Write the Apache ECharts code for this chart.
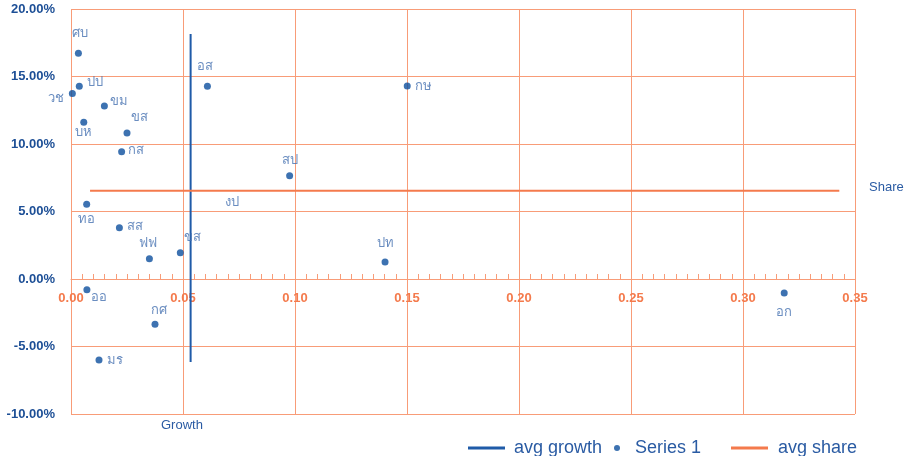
<!DOCTYPE html>
<html><head><meta charset="utf-8">
<script src="https://cdn.jsdelivr.net/npm/echarts@6/dist/echarts.min.js"></script>
<style>html,body{margin:0;padding:0;background:#fff}#c{width:910px;height:456px}</style>
</head><body><div id="c"></div>
<script>
// ---- data ----
const names  = ['ศบ','ปป','วช','ขม','บห','ขส','กส','อส','ทอ','สส','ฟฟ','ขส','ออ','กศ','มร','กษ','สป','ปท','อก'];
const share  = [0.0033,0.0037,0.0006,0.0149,0.0057,0.0250,0.0226,0.0609,0.0070,0.0216,0.0350,0.0488,0.0071,0.0375,0.0125,0.1501,0.0976,0.1402,0.3184];
const growth = [0.1672,0.1427,0.1375,0.1281,0.1161,0.1081,0.0943,0.1427,0.0553,0.0380,0.0150,0.0195,-0.0079,-0.0336,-0.0600,0.1430,0.0765,0.0126,-0.0104];
const extraLabelName = 'งป';
const extraLabelShare = 0.0719;
const extraLabelGrowth = 0.0654;
const avgGrowthShare = 0.0534;
const avgGrowthRange = [-0.0615, 0.1815];
const avgShareGrowth = 0.0654;
const avgShareRange = [0.0085, 0.343];
const xTickLabels = ['0.00','0.05','0.10','0.15','0.20','0.25','0.30','0.35'];
const yTickLabels = ['-10.00%','-5.00%','0.00%','5.00%','10.00%','15.00%','20.00%'];

// label placement (text offsets from the dot centre, px)
const labelOffsets = [[2,-20],[16,-4],[-16,5],[15,-5],[0,10],[12,-16],[14,-1],[-2,-20],[0,15],[16,-1],[-1,-15],[12,-15],[12,8],[4,-14],[16,0],[16,0],[0,-15],[0,-19],[0,19]];

const BLUE = '#0d4f9e', LINEBLUE = '#1f5ba8', ORANGE = '#f47a4c', GRID = '#f89c78';
const TXT = '#2a5ba3', LBL = '#4570b0';

const pts = names.map((n,i)=>({
  name:n, value:[share[i], growth[i]],
  label:{offset:labelOffsets[i]}
}));

const GRID_TOP = 9, GRID_BOTTOM = 42, H = 456 - GRID_TOP - GRID_BOTTOM;
const yMin = -0.10, yMax = 0.20;
const zeroOffset = -H * (0 - yMin) / (yMax - yMin); // move x axis up to y = 0

const chart = echarts.init(document.getElementById('c'), null, {renderer:'canvas'});
chart.setOption({
  animation:false,
  grid:{left:71, right:55, top:GRID_TOP, bottom:GRID_BOTTOM, containLabel:false},
  xAxis:{
    type:'value', min:0, max:0.35, interval:0.05, position:'bottom', offset:zeroOffset,
    axisLine:{show:true, onZero:false, lineStyle:{color:GRID, width:1}},
    axisTick:{show:true, inside:true, length:5, lineStyle:{color:GRID}},
    minorTick:{show:true, splitNumber:10, length:5, lineStyle:{color:GRID}},
    splitLine:{show:true, lineStyle:{color:GRID, width:1}},
    axisLabel:{color:ORANGE, fontWeight:'bold', fontSize:13, fontFamily:'Liberation Sans', margin:13,
      formatter:(v)=>xTickLabels[Math.round(v/0.05)]}
  },
  yAxis:{
    type:'value', min:yMin, max:yMax, interval:0.05,
    axisLine:{show:false}, axisTick:{show:false},
    splitLine:{show:true, lineStyle:{color:GRID, width:1}},
    axisLabel:{color:'#1d4f96', fontWeight:'bold', fontSize:13, fontFamily:'Liberation Sans', margin:16,
      formatter:(v)=>yTickLabels[Math.round((v-yMin)/0.05)]}
  },
  legend:[
    {data:[{name:'avg growth', icon:'rect'}], left:463, top:434, itemWidth:37, itemHeight:3,
     textStyle:{color:TXT, fontSize:18, fontFamily:'Liberation Sans', padding:[0,0,0,4]}},
    {data:[{name:'Series 1', icon:'circle'}], left:609, top:434, itemWidth:26, itemHeight:6,
     textStyle:{color:TXT, fontSize:18, fontFamily:'Liberation Sans'}},
    {data:[{name:'avg share', icon:'rect'}], left:726, top:434, itemWidth:37, itemHeight:3,
     textStyle:{color:TXT, fontSize:18, fontFamily:'Liberation Sans', padding:[0,0,0,5]}}
  ],
  graphic:[
    {type:'text', left:869, top:181, style:{text:'Share', fill:TXT, font:'13px "Liberation Sans"'}},
    {type:'text', left:161, top:419, style:{text:'Growth', fill:TXT, font:'13px "Liberation Sans"'}}
  ],
  series:[
    {name:'avg growth', type:'line', showSymbol:false, symbol:'none', z:2,
     lineStyle:{color:LINEBLUE, width:2}, itemStyle:{color:LINEBLUE},
     data:[[avgGrowthShare, avgGrowthRange[0]],[avgGrowthShare, avgGrowthRange[1]]]},
    {name:'avg share', type:'line', showSymbol:false, symbol:'none', z:2,
     lineStyle:{color:ORANGE, width:2}, itemStyle:{color:ORANGE},
     data:[[avgShareRange[0], avgShareGrowth],[avgShareRange[1], avgShareGrowth]]},
    {name:'Series 1', type:'scatter', symbolSize:7, z:3,
     itemStyle:{color:BLUE},
     label:{show:true, position:'inside', formatter:'{b}', color:LBL, fontSize:13},
     data:pts},
    {name:'label', type:'scatter', symbolSize:2, z:3, silent:true,
     itemStyle:{color:'rgba(0,0,0,0)'},
     label:{show:true, position:'inside', formatter:'{b}', color:LBL, fontSize:13, offset:[0,12]},
     data:[{name:extraLabelName, value:[extraLabelShare, extraLabelGrowth]}]}
  ]
});
</script></body></html>
